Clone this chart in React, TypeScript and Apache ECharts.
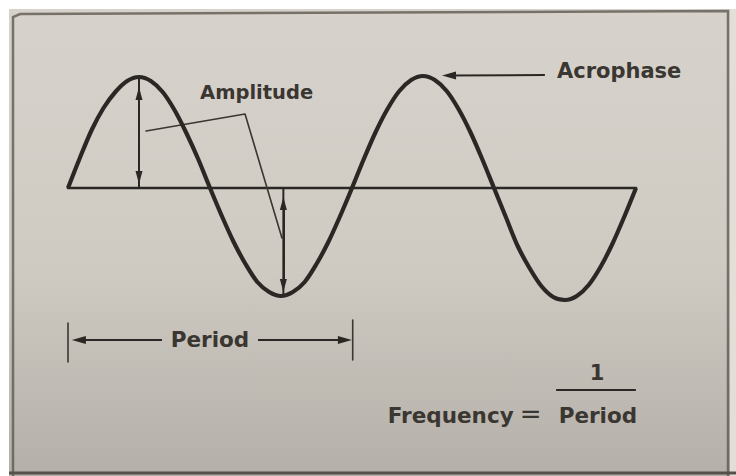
import React, { useEffect, useRef } from "react";
import * as echarts from "echarts";

// Phase positions (in twelfths of a period) and the wave heights
const phase = [
  0, 0.5, 1, 1.5, 2, 2.5, 3, 3.5, 4, 4.5, 5, 5.5,
  6, 6.5, 7, 7.5, 8, 8.5, 9, 9.5, 10, 10.5, 11, 11.5,
  12, 12.5, 13, 13.5, 14, 14.5, 15, 15.5, 16, 16.5, 17, 17.5,
  18, 18.5, 19, 19.5, 20, 20.5, 21, 21.5, 22, 22.5, 23, 23.5, 24,
];
const waveValues = [
  0, 30, 58, 80, 96, 107, 111, 107, 96, 78, 55, 29,
  0, -28, -54, -76, -94, -104, -108, -104, -94, -76, -54, -28,
  0, 29, 56, 79, 97, 108, 112, 108, 97, 79, 56, 29,
  0, -29, -58, -80, -98, -109, -112, -108, -97, -79, -56, -29, 0,
];

// Annotation geometry in data units
const baselinePts = [[0, 0], [24, 0]];
const leaderPts = [[3.3, 57], [7.48, 74], [9.04, -50]];
const ampShaft1 = [[3, 0], [3, 110]];
const ampShaft2 = [[9.1, 0], [9.1, -108]];
const periodBarLeft = [[0, -135], [0, -174]];
const periodBarRight = [[12.03, -132], [12.03, -172]];
const fractionBar = [[20.66, -202], [23.96, -202]];

// Arrows: [from, to]
const ampArrow1 = [[3, 10.5], [3, 94.5]];
const ampArrow2 = [[9.1, -15.5], [9.1, -97.5]];
const acroArrow = [[20.15, 113], [16.1, 112.5]];
const periodArrowLeft = [[3.97, -152], [0.46, -152]];
const periodArrowRight = [[8.03, -152], [11.7, -152]];

// Labels and their anchors
const labelTexts = ["Amplitude", "Acrophase", "Period", "1", "Frequency", "=", "Period"];
const labelAnchors = [[5.58, 96], [20.66, 117], [6.0, -151], [22.35, -185], [18.83, -227], [19.55, -226], [22.39, -227]];
const labelAligns = ["left", "left", "center", "center", "right", "center", "center"];
const labelSizes = [19.5, 21, 21.5, 21, 21.5, 26, 21.5];
const labelWeights = ["bold", "bold", "bold", "bold", "bold", "normal", "bold"];

const INK = "#2b2724";

function lineSeries(name: string, pts: number[][], width: number, color = INK) {
  return {
    name,
    type: "line",
    data: pts,
    symbol: "none",
    smooth: false,
    silent: true,
    lineStyle: { width, color, cap: "round", join: "round" },
    z: 3,
  };
}

function arrowItem(pts: number[][], both: boolean, size: number[]) {
  return [
    { coord: pts[0], symbol: both ? "triangle" : "none", symbolSize: size },
    { coord: pts[1], symbol: "triangle", symbolSize: size },
  ];
}

export default function App() {
  const ref = useRef<HTMLDivElement>(null);
  useEffect(() => {
    if (!ref.current) return;
    const chart = echarts.init(ref.current, null, { renderer: "svg" });
    chart.setOption({
      animation: false,
      backgroundColor: "#ffffff",
      grid: { left: 68, right: 5.333, top: 48, bottom: 8 },
      xAxis: { type: "value", min: 0, max: 28, show: false },
      yAxis: { type: "value", min: -280, max: 140, show: false },
      series: [
        {
          name: "wave",
          type: "line",
          data: phase.map((p, i) => [p, waveValues[i]]),
          symbol: "none",
          smooth: 0.3,
          silent: true,
          lineStyle: { width: 4.2, color: INK, join: "round" },
          z: 4,
        },
        {
          ...lineSeries("baseline", baselinePts, 2.6),
          markLine: {
            silent: true,
            animation: false,
            label: { show: false },
            lineStyle: { color: INK, width: 2, type: "solid" },
            data: [
              arrowItem(ampArrow1, true, [7, 13]),
              arrowItem(ampArrow2, true, [7, 13]),
              arrowItem(acroArrow, false, [8, 14]),
              arrowItem(periodArrowLeft, false, [8, 14]),
              arrowItem(periodArrowRight, false, [8, 14]),
            ],
          },
        },
        lineSeries("leader", leaderPts, 1.6, "#3a3632"),
        lineSeries("ampShaft1", ampShaft1, 2),
        lineSeries("ampShaft2", ampShaft2, 2),
        lineSeries("periodBarLeft", periodBarLeft, 1.6, "#3a3632"),
        lineSeries("periodBarRight", periodBarRight, 1.6, "#3a3632"),
        lineSeries("fractionBar", fractionBar, 2.2),
      ],
    });

    const texts = labelTexts.map((t, i) => {
      const [px, py] = chart.convertToPixel({ gridIndex: 0 }, labelAnchors[i]) as number[];
      return {
        type: "text",
        x: px,
        y: py,
        z: 10,
        silent: true,
        style: {
          text: t,
          fill: "#3a3631",
          font: `${labelWeights[i]} ${labelSizes[i]}px "DejaVu Sans"`,
          align: labelAligns[i],
          verticalAlign: "middle",
        },
      };
    });

    const frameColor = "#5f5953";
    chart.setOption({
      graphic: [
        {
          type: "rect",
          z: -10,
          silent: true,
          shape: { x: 9, y: 9, width: 727, height: 467 },
          style: {
            fill: new echarts.graphic.LinearGradient(0, 0, 0, 1, [
              { offset: 0, color: "#d7d3cc" },
              { offset: 0.55, color: "#cfcbc3" },
              { offset: 1, color: "#b4afa8" },
            ]),
          },
        },
        {
          type: "polyline",
          z: -5,
          silent: true,
          shape: { points: [[13, 476], [13, 17], [20, 14], [728, 11], [728, 476]] },
          style: { stroke: frameColor, lineWidth: 2.5, fill: "none", opacity: 0.8 },
        },
        {
          type: "line",
          z: -5,
          silent: true,
          shape: { x1: 9, y1: 473, x2: 736, y2: 473 },
          style: { stroke: "#55504b", lineWidth: 3 },
        },
        {
          type: "rect",
          z: -6,
          silent: true,
          shape: { x: 730, y: 9, width: 6, height: 467 },
          style: { fill: "#e2ded8" },
        },
        ...texts,
      ],
    });
    return () => chart.dispose();
  }, []);
  return (
    <div
      ref={ref}
      style={{ position: "fixed", left: 0, top: 0, width: 736, height: 476 }}
    />
  );
}
